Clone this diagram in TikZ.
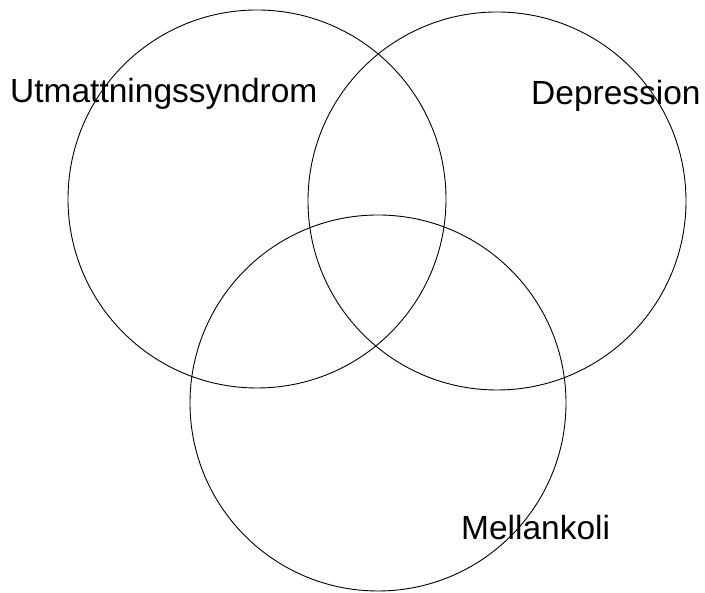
\documentclass[tikz,border=0pt]{standalone}
\usepackage{fontspec}
\setmainfont{Liberation Sans}
\begin{document}
\begin{tikzpicture}[x=1pt,y=1pt,
  ring/.style={draw, circle, inner sep=0pt, line width=0.9pt},
  lbl/.style={font=\fontsize{33.5}{40}\selectfont, anchor=base west, inner sep=0pt}]
\useasboundingbox (0,0) rectangle (705,593);
\node[ring, minimum size=378pt] (utm) at (257,394) {};
\node[ring, minimum size=378pt] (dep) at (497,392) {};
\node[ring, minimum size=376pt] (mel) at (378,190) {};
\node[lbl] (tu) at (10,490) {Utmattningssyndrom};
\node[lbl] (td) at (531,488.5) {Depression};
\node[lbl] (tm) at (461,53) {Mellankoli};
\end{tikzpicture}
\end{document}
